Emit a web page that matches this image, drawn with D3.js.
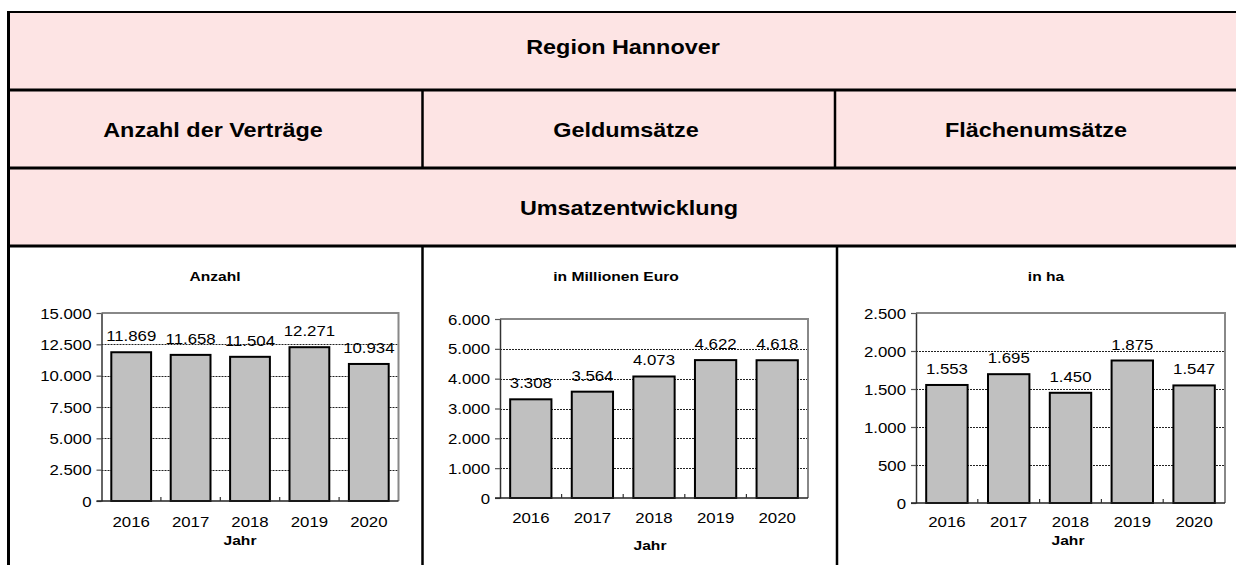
<!DOCTYPE html>
<html>
<head>
<meta charset="utf-8">
<script src="https://cdn.jsdelivr.net/npm/d3@7"></script>
<style>
  html, body { margin: 0; padding: 0; background: #fff; }
  svg { display: block; font-family: "Liberation Sans", Arial, sans-serif; }
</style>
</head>
<body>
<svg id="chart" width="1236" height="565"></svg>
<script>
// ---------- data ----------
const categories = ["2016", "2017", "2018", "2019", "2020"];
const anzahlValues = [11869, 11658, 11504, 12271, 10934];
const geldValues = [3308, 3564, 4073, 4622, 4618];
const flaecheValues = [1553, 1695, 1450, 1875, 1547];
const anzahlTicks = [0, 2500, 5000, 7500, 10000, 12500, 15000];
const geldTicks = [0, 1000, 2000, 3000, 4000, 5000, 6000];
const flaecheTicks = [0, 500, 1000, 1500, 2000, 2500];
const tableTitle = "Region Hannover";
const columnTitles = ["Anzahl der Verträge", "Geldumsätze", "Flächenumsätze"];
const sectionTitle = "Umsatzentwicklung";
const chartTitles = ["Anzahl", "in Millionen Euro", "in ha"];
const xAxisTitle = "Jahr";

// ---------- helpers ----------
const de = d3.formatLocale({decimal: ",", thousands: ".", grouping: [3], currency: ["", " €"]});
const fmt = de.format(",");
const SX = 1.2; // horizontal stretch of the original rendering
const svg = d3.select("#chart");

function txt(parent, x, y, s, size, weight, anchor) {
  return parent.append("text")
    .attr("transform", `translate(${x},${y}) scale(${SX},1)`)
    .attr("text-anchor", anchor || "middle")
    .attr("font-size", size)
    .attr("font-weight", weight || "normal")
    .attr("fill", "#000")
    .text(s);
}

// ---------- table ----------
const tLeft = 8.5, tTop = 12, tRight = 1250;
const rowLines = [90, 168, 246];
svg.append("rect").attr("x", tLeft).attr("y", tTop).attr("width", tRight - tLeft).attr("height", rowLines[2] - tTop)
  .attr("fill", "#fde4e4");
svg.append("line").attr("x1", tLeft - 1.5).attr("x2", tRight).attr("y1", tTop).attr("y2", tTop).attr("stroke", "#000").attr("stroke-width", 2);
rowLines.forEach(y => svg.append("line").attr("x1", tLeft).attr("x2", tRight).attr("y1", y).attr("y2", y).attr("stroke", "#000").attr("stroke-width", 3));
svg.append("line").attr("x1", tLeft).attr("x2", tLeft).attr("y1", tTop - 1).attr("y2", 565).attr("stroke", "#000").attr("stroke-width", 3);
[[422.5, 90, 168], [835, 90, 168], [422.5, 246, 565], [837, 246, 565]].forEach(([x, a, b]) =>
  svg.append("line").attr("x1", x).attr("x2", x).attr("y1", a).attr("y2", b).attr("stroke", "#000").attr("stroke-width", 2.5));

txt(svg, 623, 53.5, tableTitle, 19.5, "bold");
const colCenters = [213, 626, 1036];
columnTitles.forEach((t, i) => txt(svg, colCenters[i], 137, t, 19.5, "bold"));
txt(svg, 629, 215, sectionTitle, 19.5, "bold");

// ---------- charts ----------
const charts = [
  {values: anzahlValues, ticks: anzahlTicks, title: chartTitles[0], x0: 101.5, x1: 398.5, yTop: 313, yBot: 501, titleX: 215, yearY: 527, jahrX: 240, jahrY: 545},
  {values: geldValues, ticks: geldTicks, title: chartTitles[1], x0: 500, x1: 808, yTop: 319, yBot: 498, titleX: 616, yearY: 523, jahrX: 650, jahrY: 550},
  {values: flaecheValues, ticks: flaecheTicks, title: chartTitles[2], x0: 916, x1: 1225, yTop: 313, yBot: 503, titleX: 1046, yearY: 527, jahrX: 1068, jahrY: 545}
];

charts.forEach(c => {
  const g = svg.append("g");
  const x = d3.scaleBand().domain(categories).range([c.x0, c.x1]).paddingInner(0.33).paddingOuter(0.165);
  const y = d3.scaleLinear().domain([0, d3.max(c.ticks)]).range([c.yBot, c.yTop]);

  txt(g, c.titleX, 281, c.title, 13, "bold");

  // gridlines
  g.append("g").selectAll("line").data(c.ticks.filter(t => t > 0 && t < d3.max(c.ticks))).join("line")
    .attr("x1", c.x0).attr("x2", c.x1)
    .attr("y1", d => Math.round(y(d)) + 0.5).attr("y2", d => Math.round(y(d)) + 0.5)
    .attr("stroke", "#222").attr("stroke-width", 1).attr("stroke-dasharray", "2,1");

  // plot frame (top + right, grey)
  g.append("path")
    .attr("d", `M${c.x0},${y(d3.max(c.ticks))}H${c.x1}V${c.yBot}`)
    .attr("fill", "none").attr("stroke", "#888").attr("stroke-width", 2);

  // bars
  g.append("g").selectAll("rect").data(c.values).join("rect")
    .attr("x", (d, i) => x(categories[i]))
    .attr("y", d => y(d))
    .attr("width", x.bandwidth())
    .attr("height", d => c.yBot - y(d))
    .attr("fill", "#c0c0c0").attr("stroke", "#000").attr("stroke-width", 2);

  // value labels
  g.append("g").selectAll("text").data(c.values).join("text")
    .attr("transform", (d, i) => `translate(${x(categories[i]) + x.bandwidth() / 2},${y(d) - 11}) scale(${SX},1)`)
    .attr("text-anchor", "middle").attr("font-size", 14).attr("fill", "#000")
    .text(d => fmt(d));

  // y axis
  const ya = g.append("g").attr("transform", `translate(${c.x0},0)`)
    .call(d3.axisLeft(y).tickValues(c.ticks).tickFormat(fmt).tickSize(5).tickSizeOuter(0))
    .attr("font-family", null).attr("font-size", null);
  ya.select(".domain").attr("stroke", "#333").attr("stroke-width", 1.5);
  ya.selectAll(".tick line").attr("stroke", "#555").attr("stroke-width", 1.2);
  ya.selectAll(".tick text")
    .attr("x", null).attr("dy", null)
    .attr("transform", `translate(-10,5) scale(${SX},1)`)
    .attr("font-size", 14).attr("fill", "#000");

  // x axis
  const xa = g.append("g").attr("transform", `translate(0,${c.yBot})`)
    .call(d3.axisBottom(x).tickSize(0).tickSizeOuter(0))
    .attr("font-family", null).attr("font-size", null);
  xa.select(".domain").attr("stroke", "#222").attr("stroke-width", 1.5)
    .attr("d", `M${c.x0 - 5},0H${c.x1}`);
  xa.selectAll(".tick text")
    .attr("y", null).attr("dy", null)
    .attr("transform", `translate(0,${c.yearY - c.yBot}) scale(${SX},1)`)
    .attr("font-size", 14).attr("fill", "#000");
  const step = x.step();
  const bounds = categories.slice(1).map(cat => x(cat) - step * x.paddingInner() / 2);
  xa.append("g").selectAll("line").data(bounds).join("line")
    .attr("x1", d => d).attr("x2", d => d).attr("y1", 0).attr("y2", -4)
    .attr("stroke", "#333").attr("stroke-width", 1.2);

  txt(g, c.jahrX, c.jahrY, xAxisTitle, 13, "bold");
});
</script>
</body>
</html>
